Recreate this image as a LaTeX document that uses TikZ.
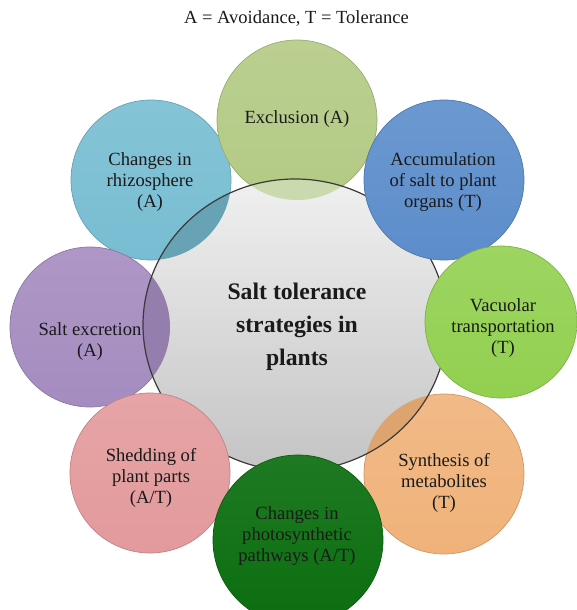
\documentclass[tikz,border=0pt]{standalone}
\usepackage{fontspec}
\setmainfont{Liberation Serif}
\usetikzlibrary{shapes.geometric}

\definecolor{exclC}{HTML}{B3CA84}
\definecolor{rhizC}{HTML}{78BDD2}
\definecolor{accC}{HTML}{5C8DCB}
\definecolor{vacC}{HTML}{92D050}
\definecolor{synC}{HTML}{F0B27A}
\definecolor{photC}{HTML}{0B6E0F}
\definecolor{shedC}{HTML}{E39A9C}
\definecolor{excrC}{HTML}{A58CC0}
\definecolor{hubTop}{HTML}{F0F0F0}
\definecolor{hubBot}{HTML}{C4C4C4}
\definecolor{rimC}{HTML}{3A3A3A}
\definecolor{txtC}{HTML}{1A1A1A}

\tikzset{
  bubble/.style={circle, inner sep=0pt, minimum size=#1},
  bubble/.default=160pt,
  tint/.style={top color=#1!90!white, bottom color=#1, draw=#1!85!black, line width=0.7pt},
  lbl/.style={align=center, text=txtC, font=\fontsize{18.6}{21}\selectfont},
  hub/.style={ellipse, inner sep=0pt, minimum width=304pt, minimum height=292pt},
}

\begin{document}
\begin{tikzpicture}[x=1pt, y=-1pt]
\useasboundingbox (0,0) rectangle (577,610);

% legend
\node[lbl, font=\fontsize{18.5}{21}\selectfont] (legend) at (296.5,19) {A = Avoidance, T = Tolerance};

% bubbles lying beneath the central hub
\node[bubble, tint=rhizC] (rhiz) at (151,180) {};
\node[bubble, tint=excrC] (excr) at (90,327) {};
\node[bubble, tint=synC]  (syn)  at (444,474) {};
\node[bubble, tint=exclC] (excl) at (297,120) {};

% central hub
\node[hub, top color=hubTop, bottom color=hubBot] (hub) at (295,325) {};

% tinted overlaps of the hub with the bubbles below it
\begin{scope}
  \clip (295,325) ellipse [x radius=152, y radius=146];
  \fill[rhizC!86!black] (151,180) circle [radius=80];
  \fill[excrC!90!black] (90,327) circle [radius=80];
  \fill[synC!92!black]  (444,474) circle [radius=80];
  \fill[exclC!60!hubTop] (297,120) circle [radius=80];
\end{scope}
\draw[rimC, line width=1.2pt] (295,325) ellipse [x radius=152, y radius=146];

% bubbles lying above the hub
\node[bubble, tint=accC]  (acc)  at (444,180) {};
\node[bubble=152pt, tint=vacC] (vac) at (501,322) {};
\node[bubble, tint=shedC] (shed) at (150,473) {};
\node[bubble=170pt, top color=photC!92!white, bottom color=photC, draw=photC!85!black, line width=0.7pt] (phot) at (298,540) {};

% labels
\node[lbl] (excl-t) at (297,119) {Exclusion (A)};
\node[lbl] (rhiz-t) at (150,182) {Changes in\\rhizosphere\\(A)};
\node[lbl] (acc-t)  at (443,182) {Accumulation\\of salt to plant\\organs (T)};
\node[lbl] (vac-t)  at (503,328) {Vacuolar\\transportation\\(T)};
\node[lbl] (excr-t) at (90,342)  {Salt excretion\\(A)};
\node[lbl] (shed-t) at (151,478) {Shedding of\\plant parts\\(A/T)};
\node[lbl] (phot-t) at (297,536) {Changes in\\photosynthetic\\pathways (A/T)};
\node[lbl] (syn-t)  at (444,483) {Synthesis of\\metabolites\\(T)};

\node[align=center, text=txtC, font=\fontsize{23.7}{33}\selectfont\bfseries] (hub-t) at (297,327)
  {Salt tolerance\\strategies in\\plants};
\end{tikzpicture}
\end{document}
